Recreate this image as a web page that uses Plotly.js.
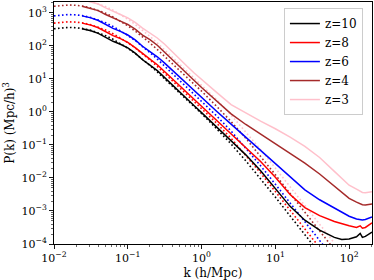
<!DOCTYPE html>
<html>
<head>
<meta charset="utf-8">
<script src="https://cdn.plot.ly/plotly-3.0.1.min.js"></script>
<style>html,body{margin:0;padding:0;background:#fff;}#chart{width:374px;height:280px;}</style>
</head>
<body>
<div id="chart"></div>
<script>
// Values, stored as log10 values
const redshiftLabels = ["z=10", "z=8", "z=6", "z=4", "z=3"];
const seriesColors = ["black", "red", "blue", "brown", "pink"];

// Nonlinear (solid) spectra: log10 k grid
const log10k_nl = [-1.62, -1.5, -1.4, -1.3, -1.2, -1.1, -1.0, -0.9, -0.8, -0.7, -0.6, -0.5, -0.4, -0.3, -0.2, -0.1, 0, 0.2, 0.4, 0.6, 0.8, 1.0, 1.2, 1.4, 1.6, 1.8, 1.9, 2.0, 2.1, 2.15, 2.18, 2.22, 2.31];
const log10P_nl_z10 = [2.52, 2.46, 2.38, 2.25, 2.14, 2.05, 1.94, 1.78, 1.58, 1.42, 1.25, 1.04, 0.82, 0.61, 0.40, 0.19, -0.02, -0.45, -0.88, -1.30, -1.78, -2.32, -2.86, -3.28, -3.58, -3.80, -3.86, -3.85, -3.78, -3.68, -3.80, -3.77, -3.64];
const log10P_nl_z8 = [2.69, 2.63, 2.55, 2.42, 2.31, 2.22, 2.11, 1.95, 1.76, 1.60, 1.43, 1.23, 1.01, 0.80, 0.59, 0.38, 0.17, -0.25, -0.66, -1.07, -1.50, -1.98, -2.50, -2.90, -3.14, -3.32, -3.39, -3.45, -3.50, -3.45, -3.52, -3.50, -3.36];
const log10P_nl_z6 = [2.91, 2.85, 2.77, 2.64, 2.53, 2.44, 2.33, 2.18, 1.99, 1.83, 1.67, 1.48, 1.27, 1.07, 0.86, 0.65, 0.44, 0.03, -0.37, -0.77, -1.16, -1.55, -1.97, -2.36, -2.66, -2.92, -3.05, -3.16, -3.24, -3.27, -3.27, -3.26, -3.18];
const log10P_nl_z4 = [3.20, 3.14, 3.07, 2.95, 2.84, 2.75, 2.65, 2.51, 2.33, 2.19, 2.02, 1.80, 1.58, 1.37, 1.16, 0.95, 0.74, 0.33, -0.06, -0.38, -0.67, -0.96, -1.24, -1.55, -1.88, -2.25, -2.45, -2.62, -2.73, -2.78, -2.81, -2.82, -2.79];
const log10P_nl_z3 = [3.40, 3.34, 3.27, 3.15, 3.04, 2.95, 2.85, 2.71, 2.54, 2.40, 2.24, 2.05, 1.82, 1.60, 1.39, 1.18, 0.98, 0.60, 0.22, -0.04, -0.28, -0.51, -0.76, -1.04, -1.38, -1.80, -2.02, -2.22, -2.34, -2.40, -2.44, -2.45, -2.42];

// Linear (dotted) spectra
const log10k_lin = [-2, -1.9, -1.8, -1.7, -1.62, -1.5, -1.4, -1.3, -1.2, -1.1, -1.0, -0.9, -0.8, -0.7, -0.6, -0.5, -0.4, -0.3, -0.2, -0.1, 0, 0.2, 0.4, 0.6, 0.8, 1.0, 1.2, 1.4, 1.6, 1.8];
const log10P_lin_z10 = [2.52, 2.55, 2.56, 2.55, 2.53, 2.47, 2.40, 2.31, 2.20, 2.07, 1.93, 1.77, 1.60, 1.41, 1.21, 1.00, 0.79, 0.58, 0.37, 0.16, -0.05, -0.50, -0.97, -1.48, -2.02, -2.58, -3.15, -3.72, -4.28, -4.85];
const log10P_lin_z8 = [2.69, 2.72, 2.73, 2.72, 2.70, 2.64, 2.57, 2.48, 2.37, 2.24, 2.10, 1.94, 1.77, 1.58, 1.38, 1.17, 0.96, 0.75, 0.54, 0.33, 0.12, -0.33, -0.80, -1.31, -1.85, -2.41, -2.98, -3.55, -4.11, -4.68];
const log10P_lin_z6 = [2.91, 2.94, 2.95, 2.94, 2.92, 2.86, 2.79, 2.70, 2.59, 2.46, 2.32, 2.16, 1.99, 1.80, 1.60, 1.39, 1.18, 0.97, 0.76, 0.55, 0.34, -0.11, -0.58, -1.09, -1.63, -2.19, -2.76, -3.33, -3.89, -4.46];
const log10P_lin_z4 = [3.20, 3.23, 3.24, 3.23, 3.21, 3.15, 3.08, 2.99, 2.88, 2.75, 2.61, 2.45, 2.28, 2.09, 1.89, 1.68, 1.47, 1.26, 1.05, 0.84, 0.63, 0.18, -0.29, -0.80, -1.34, -1.90, -2.47, -3.04, -3.60, -4.17];
const log10P_lin_z3 = [3.40, 3.43, 3.44, 3.43, 3.41, 3.35, 3.28, 3.19, 3.08, 2.95, 2.81, 2.65, 2.48, 2.29, 2.09, 1.88, 1.67, 1.46, 1.25, 1.04, 0.83, 0.38, -0.09, -0.60, -1.14, -1.70, -2.27, -2.84, -3.40, -3.97];

const xTickVals = [0.01, 0.1, 1, 10, 100];
const xTickText = ["10<sup>−2</sup>", "10<sup>−1</sup>", "10<sup>0</sup>", "10<sup>1</sup>", "10<sup>2</sup>"];
const yTickVals = [1e-4, 1e-3, 1e-2, 1e-1, 1, 10, 100, 1000];
const yTickText = ["10<sup>−4</sup>", "10<sup>−3</sup>", "10<sup>−2</sup>", "10<sup>−1</sup>", "10<sup>0</sup>", "10<sup>1</sup>", "10<sup>2</sup>", "10<sup>3</sup>"];

const pow10 = a => a.map(v => Math.pow(10, v));
const nl = [log10P_nl_z10, log10P_nl_z8, log10P_nl_z6, log10P_nl_z4, log10P_nl_z3];
const lin = [log10P_lin_z10, log10P_lin_z8, log10P_lin_z6, log10P_lin_z4, log10P_lin_z3];

const traces = [];
for (let i = 0; i < 5; i++) {
  traces.push({x: pow10(log10k_lin), y: pow10(lin[i]), mode: 'lines', showlegend: false, hoverinfo: 'skip',
    line: {color: seriesColors[i], width: 1.6, dash: '1.6px,2.4px'}});
}
for (let i = 0; i < 5; i++) {
  traces.push({x: pow10(log10k_nl), y: pow10(nl[i]), mode: 'lines', name: redshiftLabels[i],
    line: {color: seriesColors[i], width: 1.5}});
}

function minorVals(lo, hi) {
  const out = [];
  for (let e = lo; e < hi; e++) for (let m = 2; m <= 9; m++) out.push(m * Math.pow(10, e));
  return out;
}

const layout = {
  width: 374, height: 280,
  margin: {l: 54, r: 2, t: 2, b: 36},
  paper_bgcolor: 'white', plot_bgcolor: 'white',
  font: {family: 'DejaVu Serif', size: 11, color: 'black'},
  xaxis: {
    type: 'log', range: [-2, 2.31], showgrid: false, zeroline: false,
    showline: true, mirror: true, linecolor: 'black', linewidth: 1.4,
    ticks: 'outside', ticklen: 3.5, tickwidth: 0.9, tickcolor: 'black',
    tickvals: xTickVals, ticktext: xTickText,
    tickfont: {family: 'DejaVu Serif', size: 11, color: 'black'},
    minor: {tickvals: minorVals(-2, 3), ticks: 'outside', ticklen: 2, tickwidth: 0.6, tickcolor: 'black', showgrid: false},
    title: {text: 'k (h/Mpc)', font: {family: 'DejaVu Serif', size: 12, color: 'black'}, standoff: 4}
  },
  yaxis: {
    type: 'log', range: [-4, 3.33], showgrid: false, zeroline: false,
    showline: true, mirror: true, linecolor: 'black', linewidth: 1.4,
    ticks: 'outside', ticklen: 3.5, tickwidth: 0.9, tickcolor: 'black',
    tickvals: yTickVals, ticktext: yTickText,
    tickfont: {family: 'DejaVu Serif', size: 11, color: 'black'},
    minor: {tickvals: minorVals(-4, 4), ticks: 'outside', ticklen: 2, tickwidth: 0.6, tickcolor: 'black', showgrid: false},
    title: {text: 'P(k) (Mpc/h)<sup>3</sup>', font: {family: 'DejaVu Serif', size: 12, color: 'black'}, standoff: 4}
  },
  legend: {
    x: 0.723, y: 0.975, xanchor: 'left', yanchor: 'top',
    bgcolor: 'rgba(255,255,255,0.85)', bordercolor: '#cccccc', borderwidth: 1,
    font: {family: 'DejaVu Serif', size: 12, color: 'black'},
    tracegroupgap: 0
  },
  showlegend: true
};

Plotly.newPlot('chart', traces, layout, {displayModeBar: false, staticPlot: true});
</script>
</body>
</html>
